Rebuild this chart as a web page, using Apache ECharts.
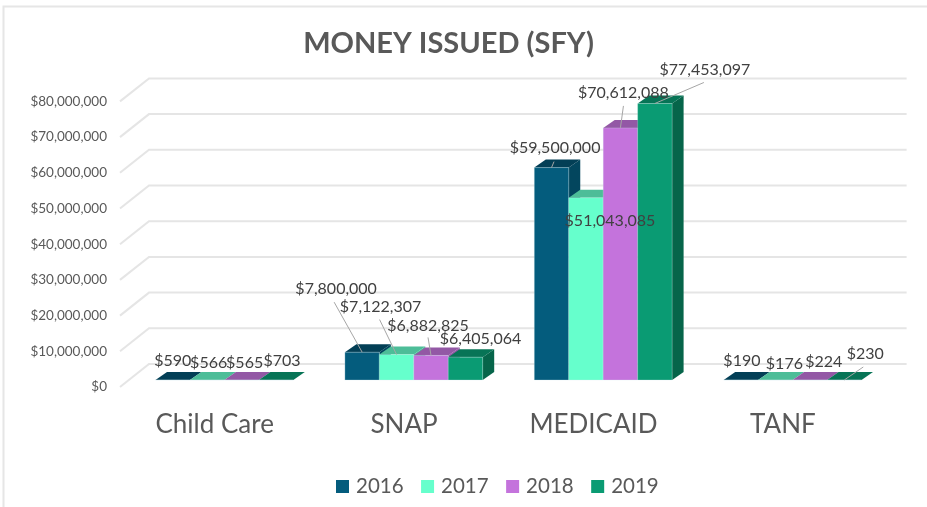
<!DOCTYPE html>
<html><head><meta charset="utf-8">
<style>html,body{margin:0;padding:0;background:#fff}#c{width:927px;height:507px}</style>
<script src="https://cdn.jsdelivr.net/npm/echarts@6/dist/echarts.min.js"></script>
</head><body><div id="c"></div>
<script>
const categories = ['Child Care','SNAP','MEDICAID','TANF'];
const years = ['2016','2017','2018','2019'];
const values2016 = [590, 7800000, 59500000, 190];
const values2017 = [566, 7122307, 51043085, 176];
const values2018 = [565, 6882825, 70612088, 224];
const values2019 = [703, 6405064, 77453097, 230];
const yTicks = [0,10000000,20000000,30000000,40000000,50000000,60000000,70000000,80000000];

const seriesValues = [values2016, values2017, values2018, values2019];
const frontColors = ['#045C7D','#66FFCC','#C473DC','#0A9B73'];
const topColors   = ['#033F56','#4DBD98','#9358A5','#077456'];
const sideColors  = ['#03465E','#4DBD98','#9358A5','#06654A'];

// 3D projection (px)
const FLOOR_DX = 9.7, FLOOR_DY = -7;   // floor front edge -> bar front plane
const BAR_DX = 11.5, BAR_DY = -8;      // bar depth
const WALL_DX = 29, WALL_DY = -23;     // wall depth
const BAR_W = 34.45;
const GROUP_W = BAR_W * 4;

// label centre offset from the bar's front-top anchor  [cat][year]
const labelOffsets = [
  [[0,-19],[1.5,-17],[3,-17],[6,-19]],
  [[-26,-63],[-16,-48],[-3,-30],[15,-18]],
  [[3.5,-20],[24,23],[3,-35],[50,-34]],
  [[1,-19],[9,-16],[14,-18],[21,-26]]
];
// leader start relative to label centre, null = none
const leaderStarts = [
  [null,null,null,null],
  [[-2,13],[-1,13],[0,12],null],
  [[-1,14],null,[0,13],[-1,13]],
  [null,null,null,[-2,13]]
];

function fmt(v){ return '$' + v.toLocaleString('en-US'); }

function barGeom(api, params, cat, yr, v){
  const c = api.coord([cat, v]);
  const c0 = api.coord([cat, 0]);
  const left = c[0] - GROUP_W/2 + yr*BAR_W + FLOOR_DX;
  return {left, right: left+BAR_W, top: c[1]+FLOOR_DY, bottom: c0[1]+FLOOR_DY};
}

function poly(pts, fill){
  return {type:'polygon', shape:{points:pts}, style:{fill}};
}

function makeBarSeries(yr){
  return {
    name: years[yr], type:'custom', coordinateSystem:'cartesian2d', z:3,
    itemStyle:{color:frontColors[yr]},
    data: categories.map((c,i)=>[i, seriesValues[yr][i]]),
    renderItem(params, api){
      const cat = api.value(0), v = api.value(1);
      const g = barGeom(api, params, cat, yr, v);
      return {type:'group', children:[
        poly([[g.right,g.top],[g.right+BAR_DX,g.top+BAR_DY],[g.right+BAR_DX,g.bottom+BAR_DY],[g.right,g.bottom]], sideColors[yr]),
        poly([[g.left,g.top],[g.left+BAR_DX,g.top+BAR_DY],[g.right+BAR_DX,g.top+BAR_DY],[g.right,g.top]], topColors[yr]),
        {type:'rect', shape:{x:g.left,y:g.top,width:BAR_W,height:g.bottom-g.top},
          style:{fill:frontColors[yr], stroke:'rgba(215,235,240,0.35)', lineWidth:0.8}}
      ]};
    }
  };
}

const wallSeries = {
  type:'custom', coordinateSystem:'cartesian2d', z:1, silent:true,
  data: yTicks.map(t=>[0,t]),
  renderItem(params, api){
    const y = api.coord([0, api.value(1)])[1];
    const x0 = params.coordSys.x, x1 = x0 + params.coordSys.width;
    return {type:'polyline', shape:{points:[[x0,y],[x0+WALL_DX,y+WALL_DY],[x1+WALL_DX,y+WALL_DY]]},
      style:{stroke:'#E5E5E5', lineWidth:2, fill:null}};
  }
};

const labelData = [];
categories.forEach((c,i)=>years.forEach((y,j)=>labelData.push([i,seriesValues[j][i],j])));
const labelSeries = {
  type:'custom', coordinateSystem:'cartesian2d', z:5, silent:true,
  data: labelData,
  renderItem(params, api){
    const cat = api.value(0), v = api.value(1), yr = api.value(2);
    const g = barGeom(api, params, cat, yr, v);
    const ax = g.left + BAR_W/2, ay = g.top;
    const off = labelOffsets[cat][yr];
    const lx = ax + off[0], ly = ay + off[1];
    const children = [];
    const ls = leaderStarts[cat][yr];
    if (ls) children.push({type:'line', shape:{x1:lx+ls[0], y1:ly+ls[1], x2:ax, y2:ay},
      style:{stroke:'#A6A6A6', lineWidth:1}});
    children.push({type:'text', style:{x:lx, y:ly, text:fmt(v), align:'center', verticalAlign:'middle',
      font:'16px Lato', fill:'#404040'}});
    return {type:'group', children};
  }
};

const chart = echarts.init(document.getElementById('c'), null, {renderer:'canvas'});
chart.setOption({
  animation:false,
  backgroundColor:'#fff',
  graphic:[{type:'polyline', silent:true, shape:{points:[[3.5,507],[3.5,6.5],[927,6.5]]},
    style:{stroke:'#E6E6E6', lineWidth:2, fill:null}}],
  title:{text:'MONEY ISSUED (SFY)', left:443.5, top:24, textAlign:'center',
    textStyle:{fontFamily:'Lato', fontWeight:'bold', fontSize:29, color:'#595959'}},
  legend:{data:years, left:331, top:471, icon:'rect', itemWidth:13, itemHeight:13, itemGap:17.5,
    textStyle:{fontFamily:'Lato', fontSize:20.5, color:'#595959', padding:[0,0,0,2]}},
  grid:{left:120, top:101.4, width:757.6, height:285.6},
  xAxis:{type:'category', data:categories, axisLine:{show:false}, axisTick:{show:false},
    axisLabel:{fontFamily:'Lato', fontSize:26, color:'#595959', margin:25}},
  yAxis:{type:'value', min:0, max:80000000, interval:10000000, splitLine:{show:false},
    axisLine:{show:false}, axisTick:{show:false},
    axisLabel:{fontFamily:'Lato', fontSize:13.5, color:'#595959', margin:13, formatter:v=>fmt(v)}},
  series:[wallSeries, ...years.map((y,i)=>makeBarSeries(i)), labelSeries]
});
</script></body></html>
